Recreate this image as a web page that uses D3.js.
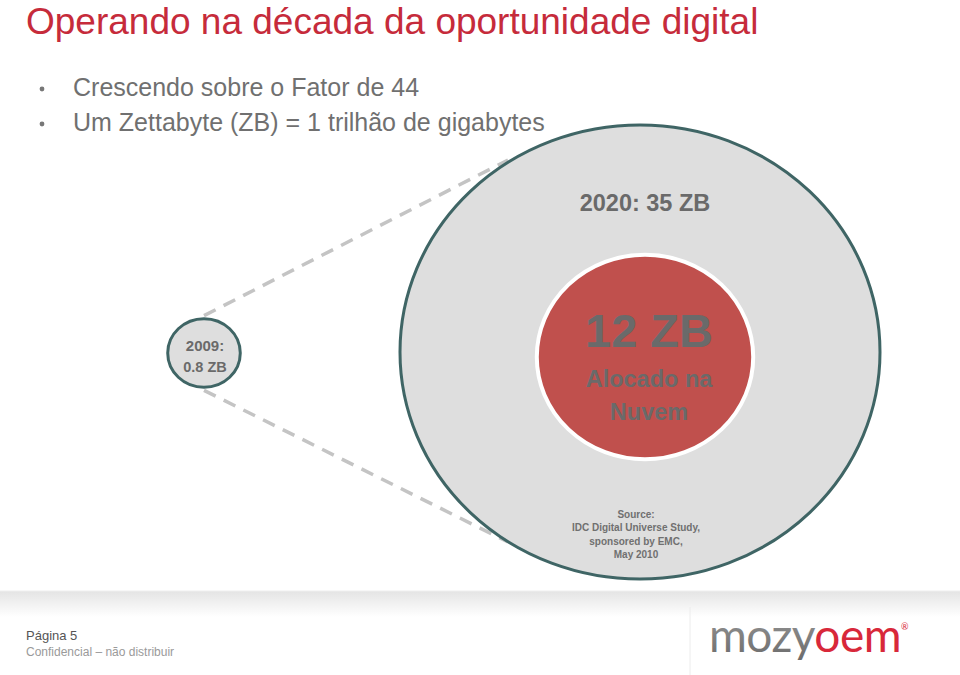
<!DOCTYPE html>
<html>
<head>
<meta charset="utf-8">
<script src="https://cdn.jsdelivr.net/npm/d3@7"></script>
<style>
  html, body { margin: 0; padding: 0; background: #fff; }
  svg { display: block; font-family: "Liberation Sans", Arial, sans-serif; }
</style>
</head>
<body>
<svg id="chart" width="960" height="675"></svg>
<script>
// ── Data ───────────────────────────────────────────────────────────────────
const title = 'Operando na década da oportunidade digital';
const bullets = ['Crescendo sobre o Fator de 44', 'Um Zettabyte (ZB) = 1 trilhão de gigabytes'];
const years = [2009, 2020];
const volumesZB = [0.8, 35];
const yearLabels = [['2009:', '0.8 ZB'], ['2020: 35 ZB']];
const cloudZB = 12;
const cloudLabels = ['12 ZB', 'Alocado na', 'Nuvem'];
const sourceLines = ['Source:', 'IDC Digital Universe Study,', 'sponsored by EMC,', 'May 2010'];
const footerLines = ['Página 5', 'Confidencial – não distribuir'];

// ── Layout ─────────────────────────────────────────────────────────────────
const svg = d3.select('#chart');
const squash = 0.946;                       // slide is slightly stretched horizontally
const r = d3.scaleSqrt().domain([0, 35]).range([0, 240]);
const cx = d3.scaleOrdinal().domain(years).range([204, 640]);
const cy = d3.scaleOrdinal().domain(years).range([353, 352]);
const textGrey = '#6a6a6a';
const edge = '#3f6565';

// title + bullets
svg.append('text').attr('x', 26).attr('y', 34)
  .attr('font-size', 37).attr('fill', '#c62b3b').text(title);
bullets.forEach((b, i) => {
  const y = 96 + i * 35;
  svg.append('circle').attr('cx', 42).attr('cy', y - 7).attr('r', 2.4).attr('fill', '#777');
  svg.append('text').attr('x', 73).attr('y', y)
    .attr('font-size', 25).attr('fill', '#707070').text(b);
});

// dashed connector lines (behind the circles)
const small = { x: cx(2009), y: cy(2009), rx: r(0.8), ry: r(0.8) * squash };
const big = { x: cx(2020), y: cy(2020), rx: r(35), ry: r(35) * squash };
[[-1, 160], [1, 542]].forEach(([s, yEnd]) => {
  svg.append('line')
    .attr('x1', small.x).attr('y1', small.y + s * (small.ry + 3))
    .attr('x2', 508).attr('y2', yEnd)
    .attr('stroke', '#c4c4c4').attr('stroke-width', 3.5)
    .attr('stroke-dasharray', '13,9');
});

// year circles
const g = svg.append('g');
g.selectAll('ellipse.year').data(years).join('ellipse')
  .attr('class', 'year')
  .attr('cx', d => cx(d)).attr('cy', d => cy(d))
  .attr('rx', (d, i) => r(volumesZB[i]))
  .attr('ry', (d, i) => r(volumesZB[i]) * squash)
  .attr('fill', '#dedede').attr('stroke', edge).attr('stroke-width', 3);

// cloud circle (drawn at ~77% of its sqrt-area size, as on the slide)
const cloudR = r(cloudZB) * 0.77;
svg.append('ellipse')
  .attr('cx', 645).attr('cy', 357)
  .attr('rx', cloudR).attr('ry', cloudR * squash)
  .attr('fill', '#c0504d').attr('stroke', '#fff').attr('stroke-width', 4);

// labels
svg.append('text').attr('x', small.x + 1).attr('y', 351)
  .attr('text-anchor', 'middle').attr('font-size', 15).attr('font-weight', 'bold')
  .attr('fill', textGrey).text(yearLabels[0][0]);
svg.append('text').attr('x', small.x + 1).attr('y', 372)
  .attr('text-anchor', 'middle').attr('font-size', 14.5).attr('font-weight', 'bold')
  .attr('fill', textGrey).text(yearLabels[0][1]);
svg.append('text').attr('x', 645).attr('y', 211)
  .attr('text-anchor', 'middle').attr('font-size', 23.5).attr('font-weight', 'bold')
  .attr('fill', textGrey).text(yearLabels[1][0]);

svg.append('text').attr('x', 649).attr('y', 347)
  .attr('text-anchor', 'middle').attr('font-size', 47).attr('font-weight', 'bold')
  .attr('fill', textGrey).text(cloudLabels[0]);
[cloudLabels[1], cloudLabels[2]].forEach((t, i) => {
  svg.append('text').attr('x', 649).attr('y', 387 + i * 33)
    .attr('text-anchor', 'middle').attr('font-size', 23.5).attr('font-weight', 'bold')
    .attr('fill', textGrey).text(t);
});

sourceLines.forEach((t, i) => {
  svg.append('text').attr('x', 636).attr('y', 518 + i * 13.4)
    .attr('text-anchor', 'middle').attr('font-size', 10).attr('font-weight', 'bold')
    .attr('fill', '#707070').text(t);
});

// ── Footer ─────────────────────────────────────────────────────────────────
const defs = svg.append('defs');
const band = defs.append('linearGradient').attr('id', 'band').attr('x1', 0).attr('y1', 0).attr('x2', 0).attr('y2', 1);
band.append('stop').attr('offset', '0%').attr('stop-color', '#e4e4e4');
band.append('stop').attr('offset', '100%').attr('stop-color', '#ffffff');
svg.append('rect').attr('x', 0).attr('y', 591).attr('width', 960).attr('height', 26).attr('fill', 'url(#band)');
svg.append('line').attr('x1', 0).attr('x2', 960).attr('y1', 591).attr('y2', 591)
  .attr('stroke', '#efefef').attr('stroke-width', 1);
svg.append('line').attr('x1', 690).attr('x2', 690).attr('y1', 607).attr('y2', 675)
  .attr('stroke', '#ececec').attr('stroke-width', 1);

svg.append('text').attr('x', 26).attr('y', 640)
  .attr('font-size', 13).attr('fill', '#555').text(footerLines[0]);
svg.append('text').attr('x', 26).attr('y', 656)
  .attr('font-size', 12).attr('fill', '#9a9a9a').text(footerLines[1]);

const mozy = defs.append('linearGradient').attr('id', 'mozy').attr('x1', 0).attr('y1', 0).attr('x2', 0).attr('y2', 1);
mozy.append('stop').attr('offset', '0%').attr('stop-color', '#9a9a9a');
mozy.append('stop').attr('offset', '100%').attr('stop-color', '#6a6a6a');
const logo = svg.append('text').attr('x', 709).attr('y', 652)
  .attr('font-size', 46).attr('font-family', 'Lato, "Liberation Sans", sans-serif')
  .attr('letter-spacing', -0.5);
logo.append('tspan').attr('fill', 'url(#mozy)').text('mozy');
logo.append('tspan').attr('fill', '#d8283a').text('oem');
logo.append('tspan').attr('fill', '#d8283a').attr('font-size', 9).attr('dy', -22).text('®');
</script>
</body>
</html>
